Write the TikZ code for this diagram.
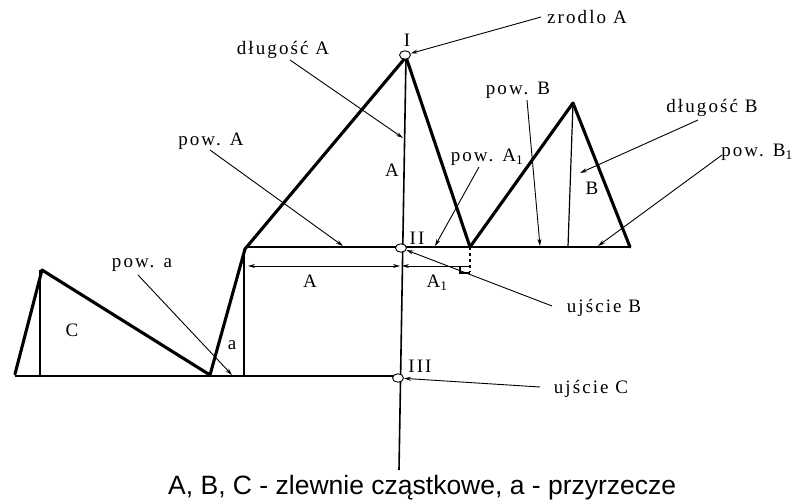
\documentclass[tikz,border=0pt]{standalone}
\usepackage{fontspec}
\setmainfont{Liberation Serif}
\newfontfamily\labfont[LetterSpace=11]{Liberation Serif}
\newfontfamily\capfont{Liberation Sans}
\usetikzlibrary{arrows.meta,shapes.geometric}
\begin{document}
\begin{tikzpicture}[x=1pt,y=-1pt,
  thickline/.style={line width=3.1pt,line join=round,line cap=round},
  thinline/.style={line width=1.2pt},
  mainline/.style={line width=1.6pt},
  leader/.style={line width=0.9pt,-{Stealth[length=7pt,width=4pt]}},
  lab/.style={font=\labfont\fontsize{19}{21}\selectfont,inner sep=0pt},
  point/.style={ellipse,draw,fill=white,line width=0.9pt,minimum width=11pt,minimum height=8.5pt,inner sep=0pt}]
\useasboundingbox[fill=white] (0,0) rectangle (796,502);
% vertices
\coordinate (c0) at (15,374);
\coordinate (cT) at (42,270);
\coordinate (cR) at (210,375);
\coordinate (aT) at (245,249);
\coordinate (aTop) at (406,57);
\coordinate (a1) at (470,247);
\coordinate (bT) at (573,103);
\coordinate (bR) at (630,247);
\coordinate (bot) at (399,470);
% thin structure lines
\draw[thinline] (40,270) -- (40,376);
\draw[thinline] (15,376) -- (398,376);
\draw[thinline] (244,249) -- (244,376);
\draw[thinline] (245,247) -- (630,247);
\draw[thinline] (bT) -- (568,247);
\draw[thinline,dashed] (a1) -- (470,272);
\draw[thinline] (460,266) -- (460,273) -- (470,273);
% main vertical line
\draw[mainline] (aTop) -- (bot);
% thick zigzag
\draw[thickline] (c0) -- (cT) -- (cR) -- (aT) -- (aTop) -- (a1) -- (bT) -- (bR);
% points
\node[point] (I) at (405,55) {};
\node[point] (II) at (401,248) {};
\node[point] (III) at (398,378) {};
\node[lab] (lI) at (407,40) {I};
\node[lab] (lII) at (417,238) {II};
\node[lab] (lIII) at (420,366) {III};
% dimension lines
\coordinate (dL) at (248,266);
\coordinate (dM) at (400,266);
\coordinate (dR) at (470,266);
\draw[line width=0.9pt,{Stealth[length=7pt,width=4pt]}-{Stealth[length=7pt,width=4pt]}] (dL) -- (dM);
\draw[line width=0.9pt,-{Stealth[length=7pt,width=4pt]}] (dR) -- ([xshift=2pt]dM);
\node[lab] (dimA) at (310,281) {A};
\node[lab] (dimA1) at (437,283) {A\textsubscript{1}};
% labels
\node[lab] (zrA) at (587,17) {zrodlo A};
\node[lab] (dlA) at (283,50) {długość A};
\node[lab] (labA) at (392,170) {A};
\node[lab] (powA) at (211,141) {pow. A};
\node[lab] (powA1) at (487,157) {pow. A\textsubscript{1}};
\node[lab] (powB) at (518,90) {pow. B};
\node[lab] (dlB) at (712,108) {długość B};
\node[lab] (labB) at (592,188) {B};
\node[lab] (powB1) at (757,152) {pow. B\textsubscript{1}};
\node[lab] (powa) at (142,265) {pow. a};
\node[lab] (laba) at (232,345) {a};
\node[lab] (labC) at (72,330) {C};
\node[lab] (ujB) at (604,308) {ujście B};
\node[lab] (ujC) at (591,389) {ujście C};
% leaders
\coordinate (zrS) at (541,17);
\draw[leader] (zrS) -- (I);
\coordinate (dlAS) at (290,60);
\coordinate (dlAE) at (403,138);
\draw[leader] (dlAS) -- (dlAE);
\coordinate (powAS) at (210,150);
\coordinate (powAE) at (343,246);
\draw[leader] (powAS) -- (powAE);
\coordinate (powA1S) at (479,167);
\coordinate (powA1E) at (435,246);
\draw[leader] (powA1S) -- (powA1E);
\coordinate (powBS) at (527,100);
\coordinate (powBE) at (540,246);
\draw[leader] (powBS) -- (powBE);
\coordinate (dlBS) at (698,120);
\coordinate (dlBE) at (580,173);
\draw[leader] (dlBS) -- (dlBE);
\coordinate (powB1S) at (722,155);
\coordinate (powB1E) at (598,246);
\draw[leader] (powB1S) -- (powB1E);
\coordinate (powaS) at (138,275);
\coordinate (powaE) at (232,375);
\draw[leader] (powaS) -- (powaE);
\coordinate (ujBS) at (552,306);
\draw[leader] (ujBS) -- (II);
\coordinate (ujCS) at (540,387);
\draw[leader] (ujCS) -- (III);
% caption
\node[font=\capfont\fontsize{26.5}{30}\selectfont,inner sep=0pt,anchor=base west] (cap) at (168,495) {A, B, C - zlewnie cząstkowe, a - przyrzecze};
\end{tikzpicture}
\end{document}
